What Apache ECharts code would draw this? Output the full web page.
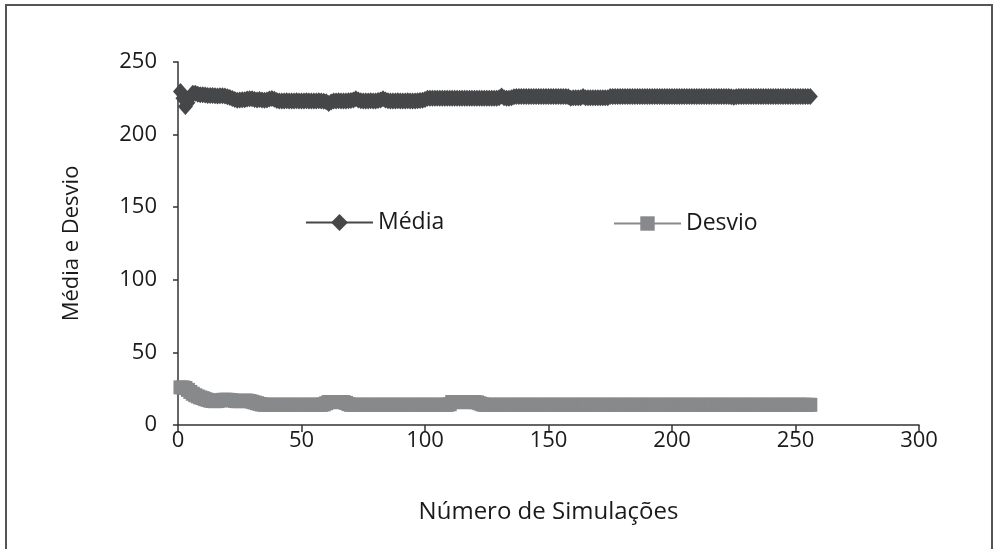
<!DOCTYPE html>
<html>
<head>
<meta charset="utf-8">
<script src="https://cdn.jsdelivr.net/npm/echarts@6/dist/echarts.min.js"></script>
<style>html,body{margin:0;padding:0;background:#fff}#c{width:996px;height:549px}</style>
</head>
<body>
<div id="c"></div>
<script>
const xTicks = [0, 50, 100, 150, 200, 250, 300];
const yTicks = [0, 50, 100, 150, 200, 250];
const seriesNames = ['Média', 'Desvio'];

// Média per number of simulations (1..256)
const media = [
  229.7, 225.0, 219.4, 222.0, 226.0, 228.4, 228.4, 227.8, 227.5, 227.5,
  227.3, 227.0, 227.0, 227.0, 226.8, 226.6, 226.8, 226.8, 226.5, 226.0,
  225.5, 224.8, 224.2, 223.6, 223.8, 224.0, 224.0, 224.5, 224.7, 224.7,
  224.2, 223.8, 224.2, 223.8, 223.6, 223.8, 224.5, 224.9, 224.3, 223.4,
  223.2, 223.2, 223.2, 223.3, 223.2, 223.2, 223.2, 223.3, 223.2, 223.2,
  223.2, 223.3, 223.2, 223.2, 223.2, 223.2, 223.3, 223.2, 223.0, 222.6,
  221.5, 222.4, 223.2, 223.2, 223.3, 223.2, 223.2, 223.2, 223.3, 223.4,
  223.9, 224.7, 223.9, 223.3, 223.2, 223.2, 223.2, 223.3, 223.2, 223.2,
  223.4, 223.9, 224.7, 223.8, 223.3, 223.2, 223.2, 223.2, 223.3, 223.2,
  223.2, 223.2, 223.3, 223.2, 223.2, 223.2, 223.3, 223.4, 223.6, 224.2,
  225.1, 225.1, 225.1, 225.0, 225.1, 225.1, 225.1, 225.0, 225.1, 225.1,
  225.1, 225.1, 225.0, 225.1, 225.1, 225.1, 225.1, 225.0, 225.1, 225.1,
  225.1, 225.1, 225.0, 225.1, 225.1, 225.1, 225.1, 225.0, 225.1, 225.3,
  226.5, 225.4, 225.1, 225.1, 225.3, 226.0, 226.3, 226.3, 226.3, 226.3,
  226.3, 226.3, 226.3, 226.3, 226.3, 226.3, 226.3, 226.3, 226.3, 226.3,
  226.3, 226.3, 226.3, 226.3, 226.3, 226.3, 226.3, 226.0, 225.0, 225.3,
  225.3, 225.3, 225.4, 226.3, 225.4, 225.3, 225.3, 225.3, 225.3, 225.3,
  225.3, 225.3, 225.3, 225.4, 226.2, 226.2, 226.2, 226.2, 226.2, 226.2,
  226.2, 226.2, 226.2, 226.2, 226.2, 226.2, 226.2, 226.2, 226.2, 226.2,
  226.2, 226.2, 226.2, 226.2, 226.2, 226.2, 226.2, 226.2, 226.2, 226.2,
  226.2, 226.2, 226.2, 226.2, 226.2, 226.2, 226.2, 226.2, 226.2, 226.2,
  226.2, 226.2, 226.2, 226.2, 226.2, 226.2, 226.2, 226.2, 226.2, 226.2,
  226.2, 226.2, 226.2, 226.0, 225.8, 226.0, 226.2, 226.2, 226.2, 226.2,
  226.2, 226.2, 226.2, 226.2, 226.2, 226.2, 226.2, 226.2, 226.2, 226.2,
  226.2, 226.2, 226.2, 226.2, 226.2, 226.2, 226.2, 226.2, 226.2, 226.2,
  226.2, 226.2, 226.2, 226.2, 226.2, 226.2
];

// Desvio per number of simulations (1..256)
const desvio = [
  25.9, 25.9, 25.5, 24.2, 22.8, 21.5, 20.5, 19.7, 19.0, 18.5,
  17.8, 17.3, 16.8, 16.5, 16.4, 16.5, 16.9, 17.3, 17.4, 17.4,
  17.2, 17.0, 16.6, 16.4, 16.4, 16.6, 16.8, 16.8, 16.5, 16.0,
  15.5, 15.0, 14.5, 14.1, 13.9, 13.9, 13.9, 13.9, 13.9, 13.9,
  13.9, 13.9, 13.9, 13.9, 13.9, 13.9, 13.9, 13.9, 13.9, 13.9,
  13.9, 13.9, 13.9, 13.9, 13.9, 13.9, 13.9, 13.9, 14.2, 15.0,
  15.8, 15.8, 15.8, 15.8, 15.8, 15.8, 15.8, 15.2, 14.4, 13.9,
  13.9, 13.9, 13.9, 13.9, 13.9, 13.9, 13.9, 13.9, 13.9, 13.9,
  13.9, 13.9, 13.9, 13.9, 13.9, 13.9, 13.9, 13.9, 13.9, 13.9,
  13.9, 13.9, 13.9, 13.9, 13.9, 13.9, 13.9, 13.9, 13.9, 13.9,
  13.9, 13.9, 13.9, 13.9, 13.9, 13.9, 13.9, 13.9, 13.9, 14.3,
  15.8, 15.8, 15.8, 15.8, 15.8, 15.8, 15.8, 15.8, 15.8, 15.8,
  15.6, 15.0, 14.3, 13.9, 13.9, 13.9, 13.9, 13.9, 13.9, 13.9,
  13.9, 13.9, 13.9, 13.9, 13.9, 13.9, 13.9, 13.9, 13.9, 13.9,
  13.9, 13.9, 13.9, 13.9, 13.9, 13.9, 13.9, 13.9, 13.9, 13.9,
  13.9, 13.9, 13.9, 13.9, 13.9, 13.9, 13.9, 13.9, 13.9, 13.9,
  13.9, 13.9, 13.9, 13.9, 13.9, 13.9, 13.9, 13.9, 13.9, 13.9,
  13.9, 13.9, 13.9, 13.9, 13.9, 13.9, 13.9, 13.9, 13.9, 13.9,
  13.9, 13.9, 13.9, 13.9, 13.9, 13.9, 13.9, 13.9, 13.9, 13.9,
  13.9, 13.9, 13.9, 13.9, 13.9, 13.9, 13.9, 13.9, 13.9, 13.9,
  13.9, 13.9, 13.9, 13.9, 13.9, 13.9, 13.9, 13.9, 13.9, 13.9,
  13.9, 13.9, 13.9, 13.9, 13.9, 13.9, 13.9, 13.9, 13.9, 13.9,
  13.9, 13.9, 13.9, 13.9, 13.9, 13.9, 13.9, 13.9, 13.9, 13.9,
  13.9, 13.9, 13.9, 13.9, 13.9, 13.9, 13.9, 13.9, 13.9, 13.9,
  13.9, 13.9, 13.9, 13.9, 13.9, 13.9, 13.9, 13.9, 13.9, 13.9,
  13.9, 13.9, 13.9, 13.9, 13.9, 13.9
];

const FONT = 'Open Sans';
const TXT = '#1a1a1a';
const FS = 22;
const toPairs = arr => arr.map((v, i) => [i + 1, v]);

const chart = echarts.init(document.getElementById('c'), null, {renderer: 'canvas'});
chart.setOption({
  animation: false,
  backgroundColor: '#fff',
  textStyle: {fontFamily: FONT, color: TXT},
  graphic: [{
    type: 'rect', silent: true,
    shape: {x: 6, y: 5, width: 986, height: 600},
    style: {fill: 'none', stroke: '#555', lineWidth: 2}
  }],
  grid: {left: 178, right: 77, top: 62, bottom: 124, containLabel: false, outerBoundsMode: 'none'},
  legend: [
    {data: [seriesNames[0]], left: 305, top: 211, padding: 0, itemWidth: 67, itemHeight: 21, itemGap: 0,
     textStyle: {fontFamily: FONT, fontSize: 23, color: TXT}},
    {data: [seriesNames[1]], left: 613, top: 212, padding: 0, itemWidth: 67, itemHeight: 18, itemGap: 0,
     textStyle: {fontFamily: FONT, fontSize: 23, color: TXT}}
  ],
  xAxis: {
    type: 'value', min: xTicks[0], max: xTicks[xTicks.length - 1], interval: 50,
    name: 'Número de Simulações', nameLocation: 'middle', nameGap: 75,
    nameTextStyle: {fontFamily: FONT, fontSize: 24, color: TXT},
    axisLine: {show: true, onZero: false, lineStyle: {color: '#333', width: 1.5}},
    axisTick: {show: true, length: 7, lineStyle: {color: '#333', width: 1.5}},
    axisLabel: {fontFamily: FONT, fontSize: FS, color: TXT, margin: 5},
    splitLine: {show: false}
  },
  yAxis: {
    type: 'value', min: yTicks[0], max: yTicks[yTicks.length - 1], interval: 50,
    name: 'Média e Desvio', nameLocation: 'middle', nameGap: 95,
    nameTextStyle: {fontFamily: FONT, fontSize: FS, color: TXT},
    axisLine: {show: true, lineStyle: {color: '#333', width: 1.5}},
    axisTick: {show: true, inside: false, length: 5, lineStyle: {color: '#333', width: 1.5}},
    axisLabel: {fontFamily: FONT, fontSize: FS, color: TXT, margin: 21},
    splitLine: {show: false}
  },
  series: [
    {
      name: seriesNames[0], type: 'line', data: toPairs(media),
      symbol: 'diamond', symbolSize: [15, 17], showAllSymbol: true,
      itemStyle: {color: '#464749'}, lineStyle: {color: '#464749', width: 2}
    },
    {
      name: seriesNames[1], type: 'line', data: toPairs(desvio),
      symbol: 'rect', symbolSize: 14, showAllSymbol: true,
      itemStyle: {color: '#88898b'}, lineStyle: {color: '#88898b', width: 2}
    }
  ]
});
</script>
</body>
</html>
